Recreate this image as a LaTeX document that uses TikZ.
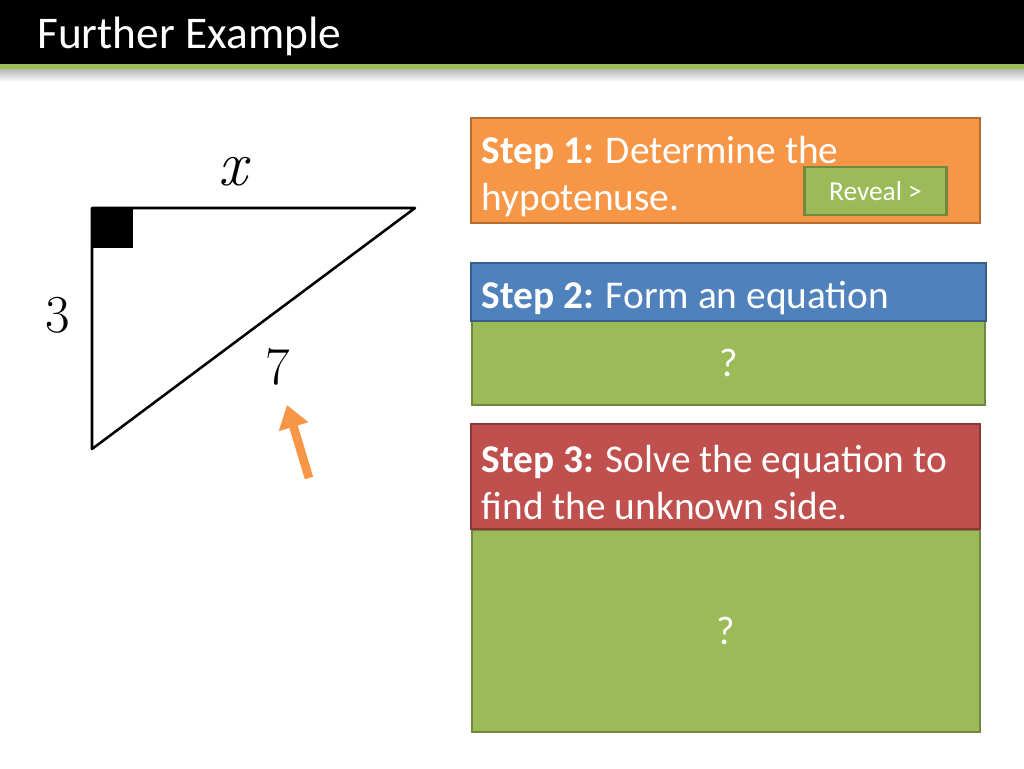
\documentclass[tikz,border=0pt]{standalone}
\usepackage{fontspec}
\setmainfont{Carlito}
\newfontfamily\sidefont{Latin Modern Roman}
\usetikzlibrary{arrows.meta}
\definecolor{stepone}{HTML}{F79646}
\definecolor{steponeline}{HTML}{B66D31}
\definecolor{steptwo}{HTML}{4F81BD}
\definecolor{steptwoline}{HTML}{385D8A}
\definecolor{stepthree}{HTML}{C0504D}
\definecolor{stepthreeline}{HTML}{8C3836}
\definecolor{answergreen}{HTML}{9BBB59}
\definecolor{answerline}{HTML}{71893F}
\newcommand{\firstline}{\rule{0pt}{29pt}}

\begin{document}
\begin{tikzpicture}[x=0.75pt,y=-0.75pt,
    stepbox/.style={draw, line width=1.2pt, text=white, align=flush left, inner xsep=8pt,
        font=\fontsize{29.5}{35.5}\selectfont},
    answerbox/.style={draw=answerline, fill=answergreen, line width=1.2pt, text=white,
        font=\fontsize{30}{34}\selectfont},
    sidelabel/.style={font=\sidefont\fontsize{40}{44}\selectfont}]
    \useasboundingbox (0,0) rectangle (1024,768);
    \fill[white] (0,0) rectangle (1024,768);
    % title bar
    \fill[black] (0,0) rectangle (1024,64);
    \shade[top color=black!30, bottom color=white] (0,68) rectangle (1024,82);
    \fill[answergreen] (0,64) rectangle (1024,69);
    \node[anchor=west, text=white, inner sep=0pt, font=\fontsize{34}{38}\selectfont] (title) at (37,36) {Further Example};
    % triangle
    \coordinate (rt) at (92,208);
    \coordinate (tr) at (415,208);
    \coordinate (bt) at (92,449);
    \fill (rt) rectangle (133,248);
    \draw[line width=1.9pt, line join=round] (rt) -- (tr) -- (bt) -- cycle;
    \node[sidelabel, font=\sidefont\itshape\fontsize{48}{50}\selectfont] (xlab) at (233,172) {x};
    \node[sidelabel] (three) at (58,315) {3};
    \node[sidelabel] (seven) at (278,367) {7};
    \coordinate (arrtail) at (309,478);
    \coordinate (arrtip) at (287,405);
    \draw[stepone, line width=6.5pt, -{Triangle[width=22pt, length=17pt]}] (arrtail) -- (arrtip);
    % steps
    \node[stepbox, fill=stepone, draw=steponeline, text width=365.75pt, minimum height=78.75pt] (s1) at (725.5,170.5)
        {\firstline\textbf{Step 1:} Determine the\\hypotenuse.};
    \node[draw=answerline, fill=answergreen, line width=2.2pt, text=white, minimum width=107pt, minimum height=36pt,
        font=\fontsize{20.5}{24}\selectfont] (reveal) at (875.5,191) {Reveal >};
    \node[answerbox, minimum width=384.75pt, minimum height=63pt] (a2) at (728.5,363) {?};
    \node[stepbox, fill=steptwo, draw=steptwoline, text width=370.25pt, minimum height=43.5pt] (s2) at (728.5,292)
        {\firstline\textbf{Step 2:} Form an equation};
    \node[answerbox, minimum width=381pt, minimum height=151.5pt] (a3) at (726,631) {?};
    \node[stepbox, fill=stepthree, draw=stepthreeline, text width=365.75pt, minimum height=78.75pt] (s3) at (725.5,476.5)
        {\firstline\textbf{Step 3:} Solve the equation to\\find the unknown side.};
\end{tikzpicture}
\end{document}
